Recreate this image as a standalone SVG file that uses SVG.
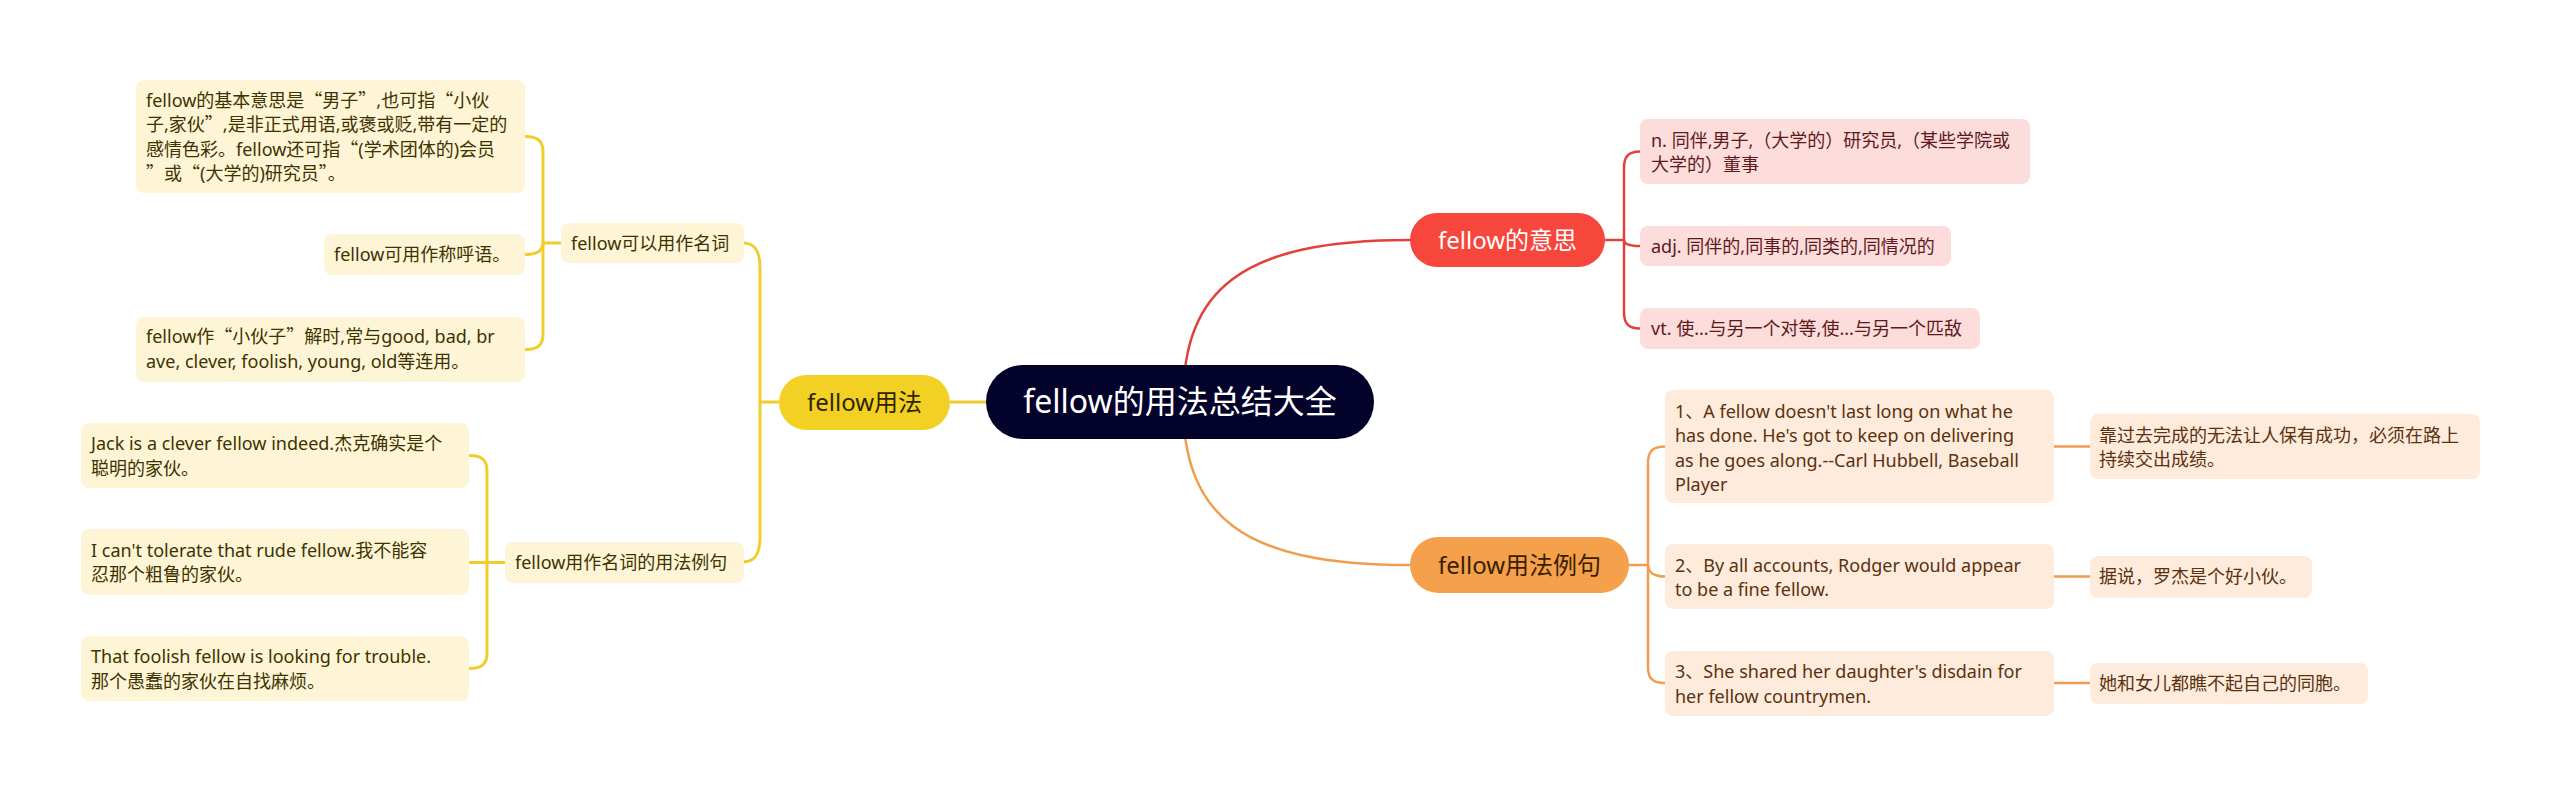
<svg xmlns="http://www.w3.org/2000/svg" width="2560" height="796" viewBox="0 0 2560 796">
<style>
text{font-family:"Noto Sans","Noto Sans CJK SC",sans-serif;}
.q{font-family:"Noto Sans CJK SC",sans-serif;}
.leaf{font-size:18px;}
.yb{fill:#FDF5D6;}
.rb{fill:#FDDCDC;}
.ob{fill:#FEEBDC;}
.yt{fill:#3D3300;}
.rt{fill:#5C1A1A;}
.ot{fill:#5A3210;}
.cy{fill:none;stroke:#F0CD2C;stroke-width:3;}
.cr{fill:none;stroke:#E2403A;stroke-width:2.5;}
.co{fill:none;stroke:#EE9E4E;stroke-width:2.5;}
.main{font-size:24px;}
</style>
<rect width="2560" height="796" fill="#FFFFFF"/>
<g id="connectors">
<path class="cy" d="M986,402 H950"/>
<path class="cy" d="M779,402 H760"/>
<path class="cy" d="M743,243 C755,243 760,251 760,268 V537 C760,554 755,562 743,562"/>
<path class="cy" d="M561,243 H543"/>
<path class="cy" d="M525,136.5 C538,136.5 543,141 543,152 V334 C543,345 538,349.5 525,349.5"/>
<path class="cy" d="M525,254.5 C537,254.5 543,251 543,243"/>
<path class="cy" d="M505,562.5 H487"/>
<path class="cy" d="M469,455.5 C482,455.5 487,460 487,471 V653 C487,664 482,668.5 469,668.5"/>
<path class="cy" d="M469,562.5 H487"/>
<path class="cr" d="M1183,402 C1183,290 1240,240 1410,240"/>
<path class="cr" d="M1605,240 H1624"/>
<path class="cr" d="M1640,151.5 C1628,151.5 1624,157 1624,168 V312 C1624,323 1628,328.5 1640,328.5"/>
<path class="cr" d="M1640,246 C1630,246 1624,244 1624,240"/>
<path class="co" d="M1183,402 C1183,515 1240,565 1410,565"/>
<path class="co" d="M1629,565 H1648"/>
<path class="co" d="M1665,446.5 C1652,446.5 1648,452 1648,463 V667 C1648,678 1652,683 1665,683"/>
<path class="co" d="M1665,576.5 C1654,576.5 1648,572 1648,565"/>
<path class="co" d="M2054,446.5 H2090"/>
<path class="co" d="M2054,576.5 H2090"/>
<path class="co" d="M2054,683 H2090"/>
</g>
<g id="root">
<rect x="986" y="365" width="388" height="74" rx="37" fill="#03022B"/>
<text x="1180" y="413" font-size="32" fill="#FFFFFF" text-anchor="middle">fellow的用法总结大全</text>
</g>
<g id="usage">
<rect x="779" y="375" width="171" height="55" rx="27.5" fill="#F2D124"/>
<text class="main" x="864.5" y="411" fill="#2E2600" text-anchor="middle">fellow用法</text>
</g>
<g id="noun">
<rect class="yb" x="561" y="223" width="183" height="40" rx="8"/>
<text class="leaf yt" x="571" y="249.5">fellow可以用作名词</text>
</g>
<g id="noun-a">
<rect class="yb" x="136" y="80" width="389" height="113" rx="8"/>
<text class="leaf yt" x="146" y="106.5">fellow的基本意思是<tspan class="q">“</tspan>男子<tspan class="q">”</tspan>,也可指<tspan class="q">“</tspan>小伙</text>
<text class="leaf yt" x="146" y="131">子,家伙<tspan class="q">”</tspan>,是非正式用语,或褒或贬,带有一定的</text>
<text class="leaf yt" x="146" y="155.5">感情色彩。fellow还可指<tspan class="q">“</tspan>(学术团体的)会员</text>
<text class="leaf yt" x="146" y="180"><tspan class="q">”</tspan>或<tspan class="q">“</tspan>(大学的)研究员<tspan class="q">”</tspan>。</text>
</g>
<g id="noun-b">
<rect class="yb" x="324" y="234" width="201" height="41" rx="8"/>
<text class="leaf yt" x="334" y="261">fellow可用作称呼语。</text>
</g>
<g id="noun-c">
<rect class="yb" x="136" y="317" width="389" height="65" rx="8"/>
<text class="leaf yt" x="146" y="343">fellow作<tspan class="q">“</tspan>小伙子<tspan class="q">”</tspan>解时,常与good, bad, br</text>
<text class="leaf yt" x="146" y="367.5">ave, clever, foolish, young, old等连用。</text>
</g>
<g id="examples-noun">
<rect class="yb" x="505" y="542" width="239" height="41" rx="8"/>
<text class="leaf yt" x="515" y="568.5">fellow用作名词的用法例句</text>
</g>
<g id="ex-d">
<rect class="yb" x="81" y="423" width="388" height="65" rx="8"/>
<text class="leaf yt" x="91" y="450">Jack is a clever fellow indeed.杰克确实是个</text>
<text class="leaf yt" x="91" y="474.5">聪明的家伙。</text>
</g>
<g id="ex-e">
<rect class="yb" x="81" y="529" width="388" height="66" rx="8"/>
<text class="leaf yt" x="91" y="556.5">I can't tolerate that rude fellow.我不能容</text>
<text class="leaf yt" x="91" y="581">忍那个粗鲁的家伙。</text>
</g>
<g id="ex-f">
<rect class="yb" x="81" y="636" width="388" height="65" rx="8"/>
<text class="leaf yt" x="91" y="663">That foolish fellow is looking for trouble.</text>
<text class="leaf yt" x="91" y="687.5">那个愚蠢的家伙在自找麻烦。</text>
</g>
<g id="meaning">
<rect x="1410" y="213" width="195" height="54" rx="27" fill="#F7463B"/>
<text class="main" x="1507.5" y="249" fill="#FFFFFF" text-anchor="middle">fellow的意思</text>
</g>
<g id="meaning-n">
<rect class="rb" x="1640" y="119" width="390" height="65" rx="8"/>
<text class="leaf rt" x="1651" y="146.5">n. 同伴,男子,（大学的）研究员,（某些学院或</text>
<text class="leaf rt" x="1651" y="171">大学的）董事</text>
</g>
<g id="meaning-adj">
<rect class="rb" x="1640" y="226" width="311" height="40" rx="8"/>
<text class="leaf rt" x="1651" y="252.5">adj. 同伴的,同事的,同类的,同情况的</text>
</g>
<g id="meaning-vt">
<rect class="rb" x="1640" y="308" width="340" height="41" rx="8"/>
<text class="leaf rt" x="1651" y="335">vt. 使...与另一个对等,使...与另一个匹敌</text>
</g>
<g id="sentences">
<rect x="1410" y="537" width="219" height="56" rx="28" fill="#F5A04B"/>
<text class="main" x="1519.5" y="573.5" fill="#3A2000" text-anchor="middle">fellow用法例句</text>
</g>
<g id="sent-1">
<rect class="ob" x="1665" y="390" width="389" height="113" rx="8"/>
<text class="leaf ot" x="1675" y="417.5">1、A fellow doesn't last long on what he</text>
<text class="leaf ot" x="1675" y="442">has done. He's got to keep on delivering</text>
<text class="leaf ot" x="1675" y="466.5">as he goes along.--Carl Hubbell, Baseball</text>
<text class="leaf ot" x="1675" y="491">Player</text>
</g>
<g id="sent-2">
<rect class="ob" x="1665" y="544" width="389" height="65" rx="8"/>
<text class="leaf ot" x="1675" y="571.5">2、By all accounts, Rodger would appear</text>
<text class="leaf ot" x="1675" y="596">to be a fine fellow.</text>
</g>
<g id="sent-3">
<rect class="ob" x="1665" y="651" width="389" height="65" rx="8"/>
<text class="leaf ot" x="1675" y="678">3、She shared her daughter's disdain for</text>
<text class="leaf ot" x="1675" y="702.5">her fellow countrymen.</text>
</g>
<g id="trans-1">
<rect class="ob" x="2090" y="414" width="390" height="65" rx="8"/>
<text class="leaf ot" x="2099" y="441.5">靠过去完成的无法让人保有成功，必须在路上</text>
<text class="leaf ot" x="2099" y="466">持续交出成绩。</text>
</g>
<g id="trans-2">
<rect class="ob" x="2090" y="556" width="222" height="42" rx="8"/>
<text class="leaf ot" x="2099" y="583">据说，罗杰是个好小伙。</text>
</g>
<g id="trans-3">
<rect class="ob" x="2090" y="663" width="278" height="41" rx="8"/>
<text class="leaf ot" x="2099" y="690">她和女儿都瞧不起自己的同胞。</text>
</g>
</svg>
